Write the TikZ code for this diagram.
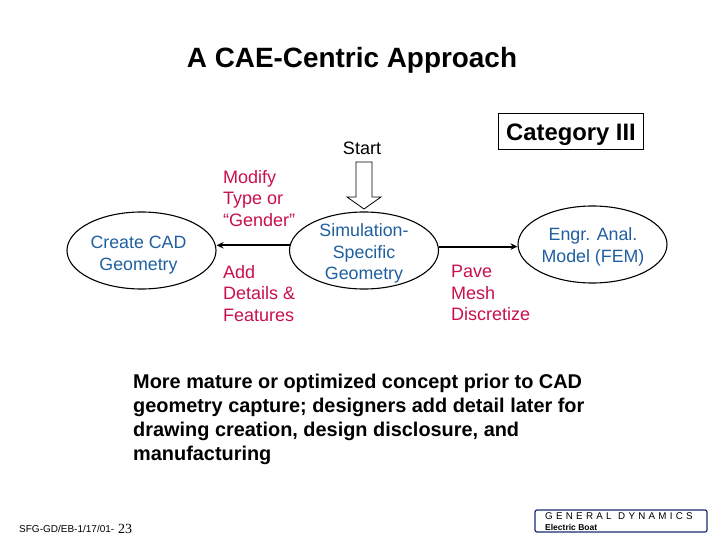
\documentclass[tikz,border=0pt]{standalone}
\usepackage{fontspec}
\usetikzlibrary{shapes.geometric,arrows.meta}
\setmainfont{Liberation Sans}
\newfontfamily\serifnum{Liberation Serif}
\definecolor{nodeblue}{HTML}{1F5F9F}
\definecolor{notered}{HTML}{C8104A}
\definecolor{gdnavy}{HTML}{1A2A70}
\begin{document}
\begin{tikzpicture}[x=1pt,y=-1pt,
  proc/.style={draw=black,line width=1.1pt,ellipse,minimum width=149pt,minimum height=77pt,inner sep=0pt},
  proctext/.style={inner sep=0pt,text=nodeblue,align=center,font=\fontsize{17.8}{21.5}\selectfont},
  note/.style={text=notered,align=left,anchor=north west,inner sep=0pt,font=\fontsize{18}{21.5}\selectfont},
  flow/.style={line width=1.9pt,-{Stealth[length=7pt,width=6.5pt]}}]
\useasboundingbox (0,0) rectangle (720,540);
\node[inner sep=0pt,font=\bfseries\fontsize{27.9}{30}\selectfont] (title) at (352,60) {A CAE-Centric Approach};
\node[inner sep=0pt,font=\fontsize{18}{20}\selectfont] (start) at (362,148) {Start};
\node[draw=black,line width=1pt,minimum width=145pt,minimum height=36pt,inner sep=0pt] (cat) at (570.5,132) {};
\node[inner sep=0pt,font=\bfseries\fontsize{23.8}{24}\selectfont] (cattext) at (571,135) {Category III};
\draw[line width=0.8pt,fill=white] (356,162) -- (372,162) -- (372,197) -- (381,197) -- (364,209) -- (347,197) -- (356,197) -- cycle;
\node[proc] (cad) at (141.5,250.5) {};
\node[proc] (sim) at (364,250.5) {};
\node[proc] (fem) at (592.5,244.5) {};
\node[proctext] (cadtext) at (138.5,255) {Create CAD\\Geometry};
\node[proctext] (simtext) at (364,253.5) {Simulation-\\Specific\\Geometry};
\node[proctext] (femtext) at (593,247) {Engr. Anal.\\Model (FEM)};
\draw[flow] (sim.176.5) -- (sim.176.5 -| cad.east);
\draw[flow] (sim.3.5) -- (sim.3.5 -| fem.west);
\node[note] (modify) at (223,170) {Modify\\Type or\\“Gender”};
\node[note] (add) at (223,265) {Add\\Details \&\\Features};
\node[note] (pave) at (451,265) {Pave\\Mesh\\Discretize};
\node[inner sep=0pt,anchor=north west,align=left,font=\bfseries\fontsize{19.9}{24}\selectfont] (body) at (133,374) {More mature or optimized concept prior to CAD\\geometry capture; designers add detail later for\\drawing creation, design disclosure, and\\manufacturing};
\node[inner sep=0pt,anchor=base west,font=\fontsize{10}{12}\selectfont] (foot) at (19,532) {SFG-GD/EB-1/17/01-};
\node[inner sep=0pt,anchor=base west,font=\serifnum\fontsize{14}{16}\selectfont] (page) at (118,533) {23};
\node[draw=gdnavy,line width=1.2pt,rounded corners=2pt,minimum width=172pt,minimum height=22pt,inner sep=0pt] (logo) at (621,521) {};
\node[inner sep=0pt,anchor=base west,font=\fontsize{9.8}{10}\selectfont] (gd) at (545,519) {G\,\,E\,\,N\,\,E\,\,R\,\,A\,\,L\,\,\,\,D\,\,Y\,\,N\,\,A\,\,M\,\,I\,\,C\,\,S};
\node[inner sep=0pt,anchor=base west,font=\bfseries\fontsize{8.5}{10}\selectfont] (eb) at (545,530) {Electric Boat};
\end{tikzpicture}
\end{document}
